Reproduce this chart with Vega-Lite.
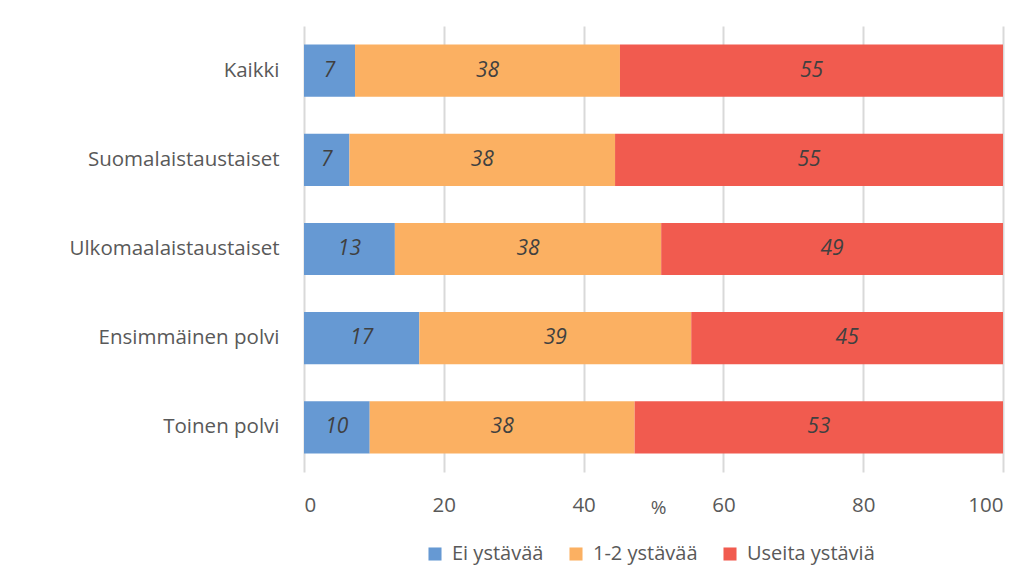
{
  "$schema": "https://vega.github.io/schema/vega-lite/v6.json",
  "width": 699,
  "height": 446,
  "padding": {"left": 304, "top": 26, "right": 27, "bottom": 102},
  "autosize": {"type": "none"},
  "background": "white",
  "config": {
    "font": "Open Sans",
    "view": {"stroke": null}
  },
  "data": {
    "values": [
      {"group": "Kaikki", "series": "Ei ystävää", "ord": 1, "value": 7.3, "label": "7"},
      {"group": "Kaikki", "series": "1-2 ystävää", "ord": 2, "value": 37.9, "label": "38"},
      {"group": "Kaikki", "series": "Useita ystäviä", "ord": 3, "value": 54.8, "label": "55"},
      {"group": "Suomalaistaustaiset", "series": "Ei ystävää", "ord": 1, "value": 6.5, "label": "7"},
      {"group": "Suomalaistaustaiset", "series": "1-2 ystävää", "ord": 2, "value": 38.0, "label": "38"},
      {"group": "Suomalaistaustaiset", "series": "Useita ystäviä", "ord": 3, "value": 55.5, "label": "55"},
      {"group": "Ulkomaalaistaustaiset", "series": "Ei ystävää", "ord": 1, "value": 13.0, "label": "13"},
      {"group": "Ulkomaalaistaustaiset", "series": "1-2 ystävää", "ord": 2, "value": 38.1, "label": "38"},
      {"group": "Ulkomaalaistaustaiset", "series": "Useita ystäviä", "ord": 3, "value": 48.9, "label": "49"},
      {"group": "Ensimmäinen polvi", "series": "Ei ystävää", "ord": 1, "value": 16.5, "label": "17"},
      {"group": "Ensimmäinen polvi", "series": "1-2 ystävää", "ord": 2, "value": 38.9, "label": "39"},
      {"group": "Ensimmäinen polvi", "series": "Useita ystäviä", "ord": 3, "value": 44.6, "label": "45"},
      {"group": "Toinen polvi\u00a0", "series": "Ei ystävää", "ord": 1, "value": 9.4, "label": "10"},
      {"group": "Toinen polvi\u00a0", "series": "1-2 ystävää", "ord": 2, "value": 37.9, "label": "38"},
      {"group": "Toinen polvi\u00a0", "series": "Useita ystäviä", "ord": 3, "value": 52.7, "label": "53"}
    ]
  },
  "encoding": {
    "y": {
      "field": "group",
      "type": "nominal",
      "sort": null,
      "scale": {"paddingInner": 0.415, "paddingOuter": 0.2075},
      "axis": {
        "title": null,
        "domain": false,
        "ticks": false,
        "labelFont": "Open Sans",
        "labelFontSize": 20.5,
        "labelColor": "#595959",
        "labelPadding": 25,
        "labelLimit": 300
      }
    },
    "x": {
      "field": "value",
      "type": "quantitative",
      "stack": "zero",
      "scale": {"domain": [0, 100], "nice": false},
      "axis": {
        "title": "%",
        "titleFont": "Open Sans",
        "titleFontSize": 19,
        "titleFontWeight": "normal",
        "titleColor": "#595959",
        "titleX": 354,
        "titleY": 35,
        "titleBaseline": "middle",
        "values": [0, 20, 40, 60, 80, 100],
        "domain": false,
        "ticks": false,
        "grid": true,
        "gridColor": "#d9d9d9",
        "gridWidth": 2,
        "labelFont": "Open Sans",
        "labelFontSize": 20.5,
        "labelColor": "#595959",
        "labelPadding": 23,
        "labelBaseline": "top"
      }
    },
    "order": {"field": "ord", "type": "quantitative"}
  },
  "layer": [
    {
      "mark": {"type": "bar"},
      "encoding": {
        "color": {
          "field": "series",
          "type": "nominal",
          "sort": ["Ei ystävää", "1-2 ystävää", "Useita ystäviä"],
          "scale": {
            "domain": ["Ei ystävää", "1-2 ystävää", "Useita ystäviä"],
            "range": ["#6699d3", "#fbb062", "#f15b4f"]
          },
          "legend": {
            "title": null,
            "orient": "none",
            "legendX": 121,
            "legendY": 518,
            "direction": "horizontal",
            "symbolType": "square",
            "symbolSize": 170,
            "symbolStrokeWidth": 0,
            "labelFont": "Open Sans",
            "labelFontSize": 20,
            "labelColor": "#595959",
            "columnPadding": 22,
            "symbolOffset": 0,
            "labelOffset": 7
          }
        }
      }
    },
    {
      "mark": {
        "type": "text",
        "font": "Open Sans",
        "fontSize": 21,
        "fontStyle": "italic",
        "color": "#404040",
        "baseline": "middle",
        "align": "center"
      },
      "encoding": {
        "x": {"field": "value", "type": "quantitative", "stack": "zero", "bandPosition": 0.5},
        "text": {"field": "label"}
      }
    }
  ]
}
